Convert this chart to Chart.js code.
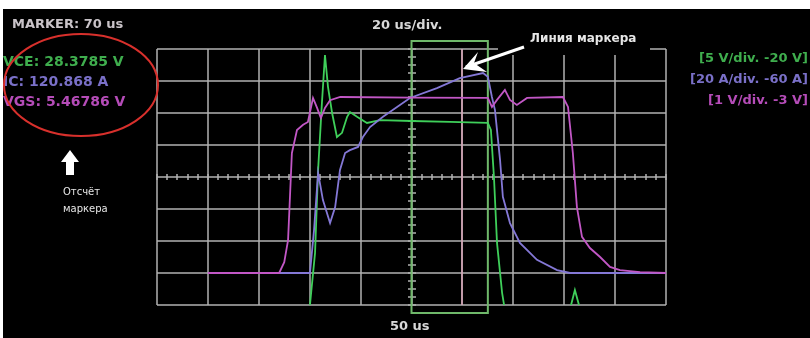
<!DOCTYPE html>
<html>
<head>
<meta charset="utf-8">
<script src="https://cdn.jsdelivr.net/npm/chart.js@4.4.1/dist/chart.umd.min.js"></script>
<style>
  html, body { margin: 0; padding: 0; background: #fff; }
  #scope { display: block; }
</style>
</head>
<body>
<canvas id="scope" width="810" height="338"></canvas>
<script>
// time in us, values in screen divisions (0 = bottom grid line, 8 = top)
const vgsTime = [-30, -2, 0, 1.5, 3, 5, 7.4, 9.3, 11.3, 12.9, 14.4, 16, 18, 22, 50, 80, 81.6, 83.6, 86.7, 88.7, 91.4, 95.4, 109.5, 111.5, 113.4, 115, 117, 120.1, 124.1, 128, 131.9, 139.8, 150];
const vgsDiv = [1, 1, 1.34, 2.03, 4.75, 5.47, 5.63, 5.72, 6.47, 6.16, 5.84, 6.16, 6.4, 6.5, 6.48, 6.47, 6.19, 6.41, 6.72, 6.41, 6.25, 6.47, 6.5, 6.19, 4.75, 3.06, 2.13, 1.78, 1.5, 1.19, 1.09, 1.03, 1];

const vceTime = [9, 10.1, 12.1, 13.3, 14.8, 16, 17.2, 18.8, 20.7, 22.7, 24.7, 25.8, 28.6, 32.5, 37.6, 50.2, 65.1, 80, 81.2, 82.4, 83.6, 85.6, 86.7, 88.7, 112.3, 112.7, 114.2, 115.8, 117, 150];
const vceDiv = [-1, 0, 1.63, 4.22, 6.31, 7.81, 6.81, 6, 5.25, 5.38, 5.88, 6.03, 5.88, 5.69, 5.78, 5.75, 5.72, 5.69, 5.47, 4, 1.94, 0.38, -0.16, -1, -1, 0, 0.47, 0, -1, -1];

const icTime = [-30, 10.1, 11.7, 13.3, 15.2, 18, 20, 21.9, 23.9, 25.8, 29, 30.9, 33.7, 38.8, 49.4, 60, 69, 78.1, 80, 81.6, 82.8, 84.8, 85.9, 88.7, 92.6, 99.3, 107.2, 112.3, 150];
const icDiv = [1, 1, 2.34, 4.13, 3.28, 2.56, 3.06, 4.22, 4.75, 4.84, 4.94, 5.25, 5.56, 5.88, 6.47, 6.78, 7.09, 7.25, 7.13, 6.5, 6.09, 4.53, 3.38, 2.56, 1.94, 1.41, 1.09, 1, 1];

const xGrid = [-50, -30, -10, 10, 30, 50, 70, 90, 110, 130, 150];
const yGrid = [0, 1, 2, 3, 4, 5, 6, 7, 8];
const markerTime = 70;
const zoomWindow = [50, 80];

const readouts = ['MARKER: 70 us', 'VCE: 28.3785 V', 'IC: 120.868 A', 'VGS: 5.46786 V'];
const scaleLabels = ['[5 V/div. -20 V]', '[20 A/div. -60 A]', '[1 V/div. -3 V]'];
const timeLabels = ['20 us/div.', '50 us'];
const notes = ['Линия маркера', 'Отсчёт', 'маркера'];

const GREEN = '#3fcf5a';
const BLUE = '#8478d6';
const PINK = '#c257c6';

function toPoints(xs, ys) {
  return xs.map((t, i) => ({ x: t, y: ys[i] }));
}

function line(ctx, x1, y1, x2, y2) {
  ctx.beginPath();
  ctx.moveTo(x1, y1);
  ctx.lineTo(x2, y2);
  ctx.stroke();
}

const scopeDraw = {
  id: 'scopeDraw',
  beforeDraw(chart) {
    const ctx = chart.ctx;
    ctx.save();
    ctx.fillStyle = '#fff';
    ctx.fillRect(0, 0, chart.width, chart.height);
    ctx.fillStyle = '#000';
    ctx.fillRect(3, 9, chart.width - 3, chart.height - 9);
    ctx.restore();
  },
  beforeDatasetsDraw(chart) {
    const { ctx, chartArea: a, scales: { x, y } } = chart;
    ctx.save();
    ctx.strokeStyle = '#b2b2b2';
    ctx.lineWidth = 1.5;
    xGrid.forEach(v => {
      const px = Math.round(x.getPixelForValue(v));
      line(ctx, px, a.top, px, a.bottom);
    });
    yGrid.forEach(v => {
      const py = Math.round(y.getPixelForValue(v));
      line(ctx, a.left, py, a.right, py);
    });
    // minor ticks on the centre axes
    const cx = Math.round(x.getPixelForValue(50));
    const cy = Math.round(y.getPixelForValue(4));
    for (let v = -50; v <= 150; v += 4) {
      const px = Math.round(x.getPixelForValue(v));
      line(ctx, px, cy - 3, px, cy + 3);
    }
    for (let v = 0; v <= 8; v += 0.25) {
      const py = Math.round(y.getPixelForValue(v));
      line(ctx, cx - 4, py, cx + 4, py);
    }
    // black patch that the label was pasted on
    ctx.fillStyle = '#000';
    ctx.fillRect(498, 28, 152, 27);

    // marker line
    ctx.strokeStyle = '#d7a3b6';
    const mx = Math.round(x.getPixelForValue(markerTime));
    line(ctx, mx, a.top, mx, a.bottom);

    // zoom window bracket
    ctx.strokeStyle = '#6fb86a';
    ctx.lineWidth = 2;
    const x1 = x.getPixelForValue(zoomWindow[0]);
    const x2 = x.getPixelForValue(zoomWindow[1]);
    ctx.strokeRect(x1, a.top - 8, x2 - x1, a.bottom - a.top + 16);
    ctx.restore();
  },
  afterDraw(chart) {
    const ctx = chart.ctx;
    ctx.save();
    ctx.textBaseline = 'middle';

    ctx.font = 'bold 13px "DejaVu Sans"';
    ctx.fillStyle = '#c9c3c8';
    ctx.fillText(readouts[0], 12, 25);
    ctx.font = 'bold 14px "DejaVu Sans"';
    ctx.fillStyle = '#3fae4e';
    ctx.fillText(readouts[1], 3, 62);
    ctx.fillStyle = '#7a70c8';
    ctx.fillText(readouts[2], 3, 82);
    ctx.fillStyle = '#b54cb8';
    ctx.fillText(readouts[3], 3, 102);

    ctx.font = 'bold 13px "DejaVu Sans"';
    ctx.fillStyle = '#d8d8d8';
    ctx.fillText(timeLabels[0], 372, 26);
    ctx.fillText(timeLabels[1], 390, 327);

    ctx.textAlign = 'right';
    ctx.font = 'bold 13px "DejaVu Sans"';
    ctx.fillStyle = '#3fae4e';
    ctx.fillText(scaleLabels[0], 808, 59);
    ctx.fillStyle = '#7a70c8';
    ctx.fillText(scaleLabels[1], 808, 80);
    ctx.fillStyle = '#b54cb8';
    ctx.fillText(scaleLabels[2], 808, 101);

    ctx.textAlign = 'left';
    ctx.fillStyle = '#e6e6e6';
    ctx.font = 'bold 12px "DejaVu Sans"';
    ctx.fillText(notes[0], 530, 39);
    ctx.font = '10px "DejaVu Sans"';
    ctx.fillText(notes[1], 63, 192);
    ctx.fillText(notes[2], 63, 209);

    // red circle round the readouts
    ctx.strokeStyle = '#d8302c';
    ctx.lineWidth = 2;
    ctx.beginPath();
    ctx.ellipse(81, 85, 77, 51, 0, 0, Math.PI * 2);
    ctx.stroke();

    // arrow to the marker line
    ctx.strokeStyle = '#fff';
    ctx.fillStyle = '#fff';
    ctx.lineWidth = 3;
    line(ctx, 524, 47, 466, 67);
    ctx.beginPath();
    ctx.moveTo(463, 69);
    ctx.lineTo(478, 52);
    ctx.lineTo(474, 63);
    ctx.lineTo(487, 72);
    ctx.closePath();
    ctx.fill();

    // up arrow under the readouts
    ctx.beginPath();
    ctx.moveTo(70, 150);
    ctx.lineTo(79, 162);
    ctx.lineTo(74, 162);
    ctx.lineTo(74, 175);
    ctx.lineTo(66, 175);
    ctx.lineTo(66, 162);
    ctx.lineTo(61, 162);
    ctx.closePath();
    ctx.fill();
    ctx.restore();
  }
};

const ctx = document.getElementById('scope').getContext('2d');
new Chart(ctx, {
  type: 'line',
  data: {
    datasets: [
      { label: 'VGS', data: toPoints(vgsTime, vgsDiv), borderColor: PINK },
      { label: 'IC', data: toPoints(icTime, icDiv), borderColor: BLUE },
      { label: 'VCE', data: toPoints(vceTime, vceDiv), borderColor: GREEN }
    ]
  },
  options: {
    responsive: false,
    animation: false,
    devicePixelRatio: 1,
    elements: {
      point: { radius: 0 },
      line: { borderWidth: 1.8, tension: 0 }
    },
    layout: { padding: { left: 157, right: 144, top: 49, bottom: 33 } },
    scales: {
      x: { type: 'linear', min: -50, max: 150, display: false },
      y: { type: 'linear', min: 0, max: 8, display: false }
    },
    plugins: {
      legend: { display: false },
      tooltip: { enabled: false }
    }
  },
  plugins: [scopeDraw]
});
</script>
</body>
</html>
